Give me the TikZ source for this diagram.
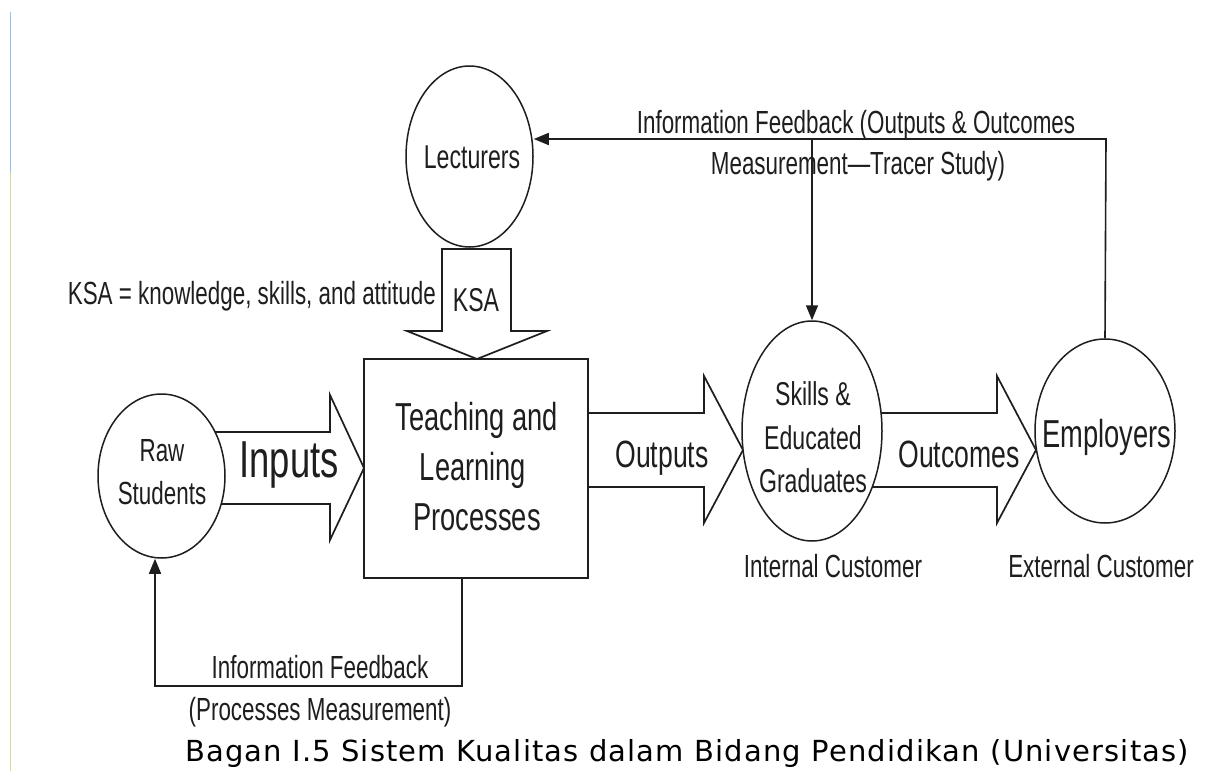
\documentclass[tikz,border=0pt]{standalone}
\usepackage{fontspec}
\setmainfont{Liberation Sans}
\newfontfamily\narrowfont[FakeStretch=0.7]{Liberation Sans}
\newfontfamily\capfont[LetterSpace=4]{DejaVu Sans}
\usetikzlibrary{shapes.geometric,arrows.meta}
\pgfdeclarelayer{background}
\pgfsetlayers{background,main}
\definecolor{ink}{HTML}{1E1E1E}
\definecolor{rulea}{HTML}{A8BCD2}
\definecolor{ruleb}{HTML}{D8D6B4}

\newcommand{\fsz}[1]{\fontsize{#1}{#1}\selectfont}

\tikzset{
  oval/.style={ellipse, draw=ink, line width=1.5pt, fill=white, inner sep=0pt},
  procbox/.style={rectangle, draw=ink, line width=1.7pt, fill=white, inner sep=0pt},
  blockarrow/.style={draw=ink, line width=1.7pt, fill=white, line join=miter},
  feed/.style={draw=ink, line width=1.6pt, -{Triangle[length=15pt,width=12pt]}},
  lbl/.style={font=\narrowfont\fsz{32}, text=ink, inner sep=0pt, anchor=base},
}

\begin{document}
\begin{tikzpicture}[x=1pt, y=-1pt]
  \useasboundingbox (0,0) rectangle (1229,771);

  % page rule on the left edge
  \draw[rulea, line width=1pt] (10,12) -- (10,173);
  \draw[ruleb, line width=1pt] (10,173) -- (10,771);

  % main shapes
  \node[oval, minimum width=127pt, minimum height=181pt] (lect) at (469.5,156.5) {};
  \node[oval, minimum width=127pt, minimum height=164pt] (raw) at (161.5,476) {};
  \node[procbox, minimum width=224pt, minimum height=219pt] (tlp) at (476,468.5) {};
  \node[oval, minimum width=140pt, minimum height=220pt] (skills) at (812,431) {};
  \node[oval, minimum width=140pt, minimum height=184pt] (emp) at (1105,431) {};

  % block arrows (behind the shapes they start from)
  \begin{pgfonlayer}{background}
    \fill[white] (0,0) rectangle (1229,771);
    \draw[blockarrow] (200,432) -- (330,432) -- (330,395) -- (364,468)
                      -- (330,540) -- (330,504) -- (200,504);
    \draw[blockarrow] (588,413) -- (704,413) -- (704,376) -- (743,450)
                      -- (704,523) -- (704,487) -- (588,487);
    \draw[blockarrow] (850,413) -- (997,413) -- (997,376) -- (1036,450)
                      -- (997,523) -- (997,487) -- (850,487);
  \end{pgfonlayer}
  \draw[blockarrow] (442,249) -- (442,331) -- (407,331) -- (477,359)
                    -- (547,331) -- (511,331) -- (511,249) -- cycle;

  % texts in shapes
  \node[lbl, font=\narrowfont\fsz{33}] (tlect) at (472,168) {Lecturers};
  \node[lbl] (traw1) at (162,461) {Raw};
  \node[lbl] (traw2) at (162,504) {Students};
  \node[lbl, font=\narrowfont\fsz{39}] (ttlp1) at (477,430) {Teaching and};
  \node[lbl, font=\narrowfont\fsz{39}] (ttlp2) at (473,480) {Learning};
  \node[lbl, font=\narrowfont\fsz{39}] (ttlp3) at (477,530) {Processes};
  \node[lbl, font=\narrowfont\fsz{33}] (tsk1) at (813,405) {Skills \&};
  \node[lbl, font=\narrowfont\fsz{33}] (tsk2) at (813,449) {Educated};
  \node[lbl, font=\narrowfont\fsz{33}] (tsk3) at (813,492) {Graduates};
  \node[lbl, font=\narrowfont\fsz{39}] (temp) at (1107,447) {Employers};

  % texts on block arrows
  \node[lbl, font=\narrowfont\fsz{52}] (tin) at (289,477) {Inputs};
  \node[lbl, font=\narrowfont\fsz{38}] (tout) at (662,467) {Outputs};
  \node[lbl, font=\narrowfont\fsz{38}] (toc) at (959,467) {Outcomes};
  \node[lbl, font=\narrowfont\fsz{33}] (tksa) at (476,311) {KSA};

  % free labels
  \node[lbl, anchor=base east] (ksadef) at (436,304) {KSA = knowledge, skills, and attitude};
  \node[lbl] (intc) at (833,577) {Internal Customer};
  \node[lbl] (extc) at (1101,577) {External Customer};

  % feedback from employers to lecturers and graduates
  \coordinate (tr) at (1106,139);
  \coordinate (tj) at (812,139);
  \draw[feed] (emp.north) -- (tr) -- (tr -| lect.east);
  \draw[feed] (tj) -- (skills.north);
  \node[lbl] (fbt1) at (856,133) {Information Feedback (Outputs \& Outcomes};
  \node[lbl] (fbt2) at (858,174) {Measurement\textemdash Tracer Study)};

  % feedback from processes to raw students
  \coordinate (bs) at (462,578);
  \coordinate (b1) at (462,686);
  \coordinate (b2) at (155,686);
  \draw[feed] (bs) -- (b1) -- (b2) -- (b2 |- raw.south);
  \node[lbl] (fbb1) at (320,678) {Information Feedback};
  \node[lbl] (fbb2) at (320,720) {(Processes Measurement)};

  % caption
  \node[anchor=base west, inner sep=0pt, font=\capfont\fsz{29}, text=black] (cap)
    at (185,761) {Bagan I.5 Sistem Kualitas dalam Bidang Pendidikan (Universitas)};
\end{tikzpicture}
\end{document}
